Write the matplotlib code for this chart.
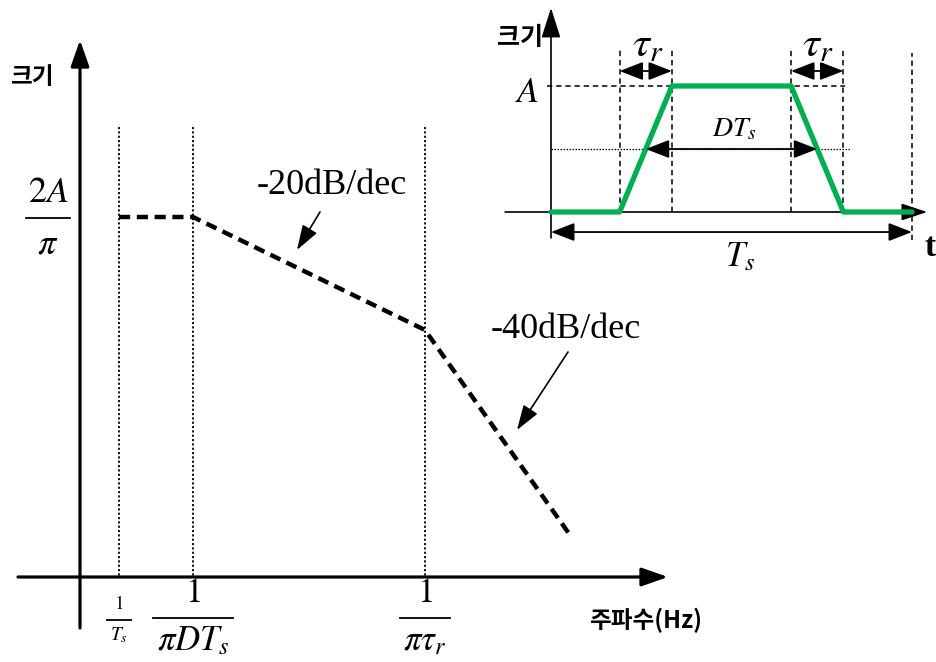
import matplotlib
matplotlib.use("Agg")
import matplotlib.pyplot as plt
from matplotlib.transforms import blended_transform_factory

plt.rcParams['mathtext.fontset'] = 'stix'
plt.rcParams['font.family'] = ['Liberation Serif', 'DejaVu Serif']

W, H, DPI = 937, 662, 100
KR = ['Noto Sans CJK KR', 'DejaVu Sans']

# ---- Bode magnitude asymptotes (frequency relative to 1/(pi*D*Ts), dB re 2A/pi)
f_period = 0.48      # 1/Ts
f_corner1 = 1.0      # 1/(pi*D*Ts)
f_corner2 = 10.0     # 1/(pi*tau_r)
f_end = 42.2
bode_freq = [f_period, f_corner1, f_corner2, f_end]
bode_mag = [0.0, 0.0, -20.0, -56.3]
corner_freqs = [f_period, f_corner1, f_corner2]
slope_labels = ['-20dB/dec', '-40dB/dec']

# ---- trapezoidal pulse over one period (Ts = 1, amplitude A = 1)
pulse_t = [0.0, 0.19, 0.335, 0.665, 0.81, 1.0]
pulse_a = [0, 0, 1, 1, 0, 0]

fig = plt.figure(figsize=(W / DPI, H / DPI), dpi=DPI)
fig.patch.set_facecolor('white')

# overlay in pixel units for layout (axes frames, labels)
ov = fig.add_axes([0, 0, 1, 1])
ov.set_xlim(0, W)
ov.set_ylim(H, 0)
ov.axis('off')

# spectrum axes: log frequency, dB magnitude
ax = fig.add_axes([0, 0, 1, 1])
ax.set_xscale('log')
ax.set_xlim(10 ** (-193 / 232), 10 ** ((W - 193) / 232))
ax.set_ylim(-(H - 217) * 20 / 113, 217 * 20 / 113)
ax.axis('off')
fx = blended_transform_factory(ax.transData, ov.transData)

# time-domain axes for the pulse
ax2 = fig.add_axes([0, 0, 1, 1])
ax2.set_xlim(-551 / 361, (W - 551) / 361)
ax2.set_ylim((212 - H) / 126, 212 / 126)
ax2.axis('off')


def arrow(a, tail, tip, lw, hl, hw, ms=20):
    a.annotate('', xy=tip, xytext=tail,
               arrowprops=dict(arrowstyle=f'-|>,head_length={hl},head_width={hw}',
                               lw=lw, color='k', mutation_scale=ms,
                               shrinkA=0, shrinkB=0))


# ---------------- spectrum ----------------
arrow(ov, (80, 628), (80, 40), 2.3, 0.8, 0.28)
arrow(ov, (18, 577), (668, 577), 2.3, 0.8, 0.28)

for f in corner_freqs:
    ax.plot([f, f], [127, 577], transform=fx, color='k', lw=1.3,
            ls=(0, (1.2, 1.2)))

ax.plot(bode_freq, bode_mag, color='k', lw=3.2, ls=(0, (2.5, 1.5)))

ov.text(10, 77, '크기', family=KR, weight='bold', fontsize=17,
        ha='left', va='center')
ov.text(589, 620, '주파수(Hz)', family=KR, weight='bold', fontsize=17,
        ha='left', va='center')


def frac(x, num, den, ybar, half, size, dnum, dden, lw=1.3):
    ov.text(x, ybar - dnum, num, fontsize=size, ha='center', va='center')
    ov.text(x, ybar + dden, den, fontsize=size, ha='center', va='center')
    ov.plot([x - half, x + half], [ybar, ybar], color='k', lw=lw)


def frac_f(f, num, den, ybar, half, size, dnum, dden):
    xp = ax.transData.transform((f, 0))[0]
    xpix = ov.transData.inverted().transform((xp, 0))[0]
    frac(xpix, num, den, ybar, half, size, dnum, dden)


frac(48, r'$2A$', r'$\pi$', 218, 22, 26, 25, 27)
frac_f(f_period, r'$1$', r'$T_s$', 620, 12, 14, 16, 15)
frac_f(f_corner1, r'$1$', r'$\pi DT_s$', 618, 40, 25, 24, 24)
frac_f(f_corner2, r'$1$', r'$\pi\tau_r$', 618, 25, 25, 24, 24)

ov.text(332, 186, slope_labels[0], fontsize=26, ha='center', va='center')
ov.text(566, 330, slope_labels[1], fontsize=26, ha='center', va='center')
for tail, tip in (((320, 212), (297, 250)), ((568, 352), (517, 430))):
    ov.annotate('', xy=tip, xytext=tail,
                arrowprops=dict(arrowstyle='-|>,head_length=0.9,head_width=0.3',
                                lw=1.2, color='k', mutation_scale=17,
                                shrinkA=0, shrinkB=0))

# ---------------- pulse ----------------
t0, t1, t2, t3, t4, ts = pulse_t
dash = (0, (3.5, 2.5))
arrow(ax2, (0, -0.206), (0, 1.62), 1.2, 1.1, 0.35, ms=17)
arrow(ax2, (-0.127, 0), (1.042, 0), 1.2, 1.0, 0.33, ms=16)

for t in (t1, t2, t3, t4):
    ax2.plot([t, t], [0, 1.286], color='k', lw=1.1, ls=dash)
ax2.plot([ts, ts], [-0.222, 1.262], color='k', lw=1.1, ls=dash)
ax2.plot([-0.01, t4 + 0.005], [1, 1], color='k', lw=1.1, ls=dash)
ax2.plot([0, 0.828], [0.5, 0.5], color='k', lw=0.9, ls=(0, (1.2, 1.2)))

ax2.plot(pulse_t, pulse_a, color='#00b050', lw=3.8, solid_capstyle='round',
         solid_joinstyle='round', zorder=5)


def dbl(a, x0, x1, y, ms=17):
    a.annotate('', xy=(x1, y), xytext=(x0, y),
               arrowprops=dict(arrowstyle='<|-|>,head_length=0.85,head_width=0.33',
                               lw=1.3, color='k', mutation_scale=ms,
                               shrinkA=0, shrinkB=0), zorder=6)


dbl(ax2, t1, t2, 1.119)
dbl(ax2, t3, t4, 1.119)
dbl(ax2, (t1 + t2) / 2, (t3 + t4) / 2, 0.5)
dbl(ax2, 0, ts, -0.159)

ov.text(520, 38, '크기', family=KR, weight='bold', fontsize=18,
        ha='center', va='center')
ov.text(527, 93, r'$A$', fontsize=26, ha='center', va='center')
ov.text(648, 46, r'$\tau_r$', fontsize=31, ha='center', va='center')
ov.text(818, 46, r'$\tau_r$', fontsize=31, ha='center', va='center')
ov.text(734, 130, r'$DT_s$', fontsize=20, ha='center', va='center')
ov.text(740, 258, r'$T_s$', fontsize=25, ha='center', va='center')
ov.text(930, 248, 't', fontsize=24, weight='bold', ha='center', va='center')

fig.savefig('out.png', dpi=DPI, facecolor='white')
